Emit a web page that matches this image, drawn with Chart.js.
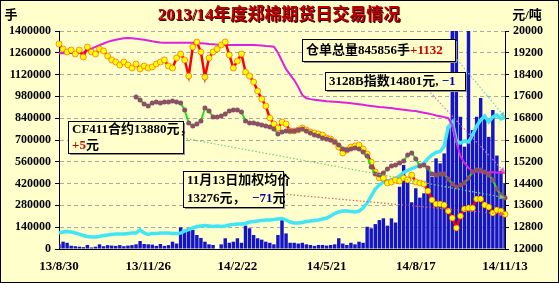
<!DOCTYPE html>
<html>
<head>
<meta charset="utf-8">
<script src="https://cdn.jsdelivr.net/npm/chart.js@4.4.0/dist/chart.umd.min.js"></script>
<style>
body { margin: 0; background: #fff; }
canvas { display: block; }
</style>
</head>
<body>
<canvas id="cottonChart" width="559" height="283"></canvas>
<script>
// 日期：2013/8/30 起每4天一个点，到 2014/11/13
var categories = [];
for (var i = 0; i <= 110; i++) {
  var d = new Date(2013, 7, 30 + i * 4);
  categories.push((d.getFullYear() % 100) + '/' + (d.getMonth() + 1) + '/' + d.getDate());
}
var tickLabels = ['13/8/30', '13/11/26', '14/2/22', '14/5/21', '14/8/17', '14/11/13'];

// 成交量（手，左轴）
var volume = [
  30000, 47000, 40000, 21000, 18000, 15000, 12000, 26000, 10000, 15000,
  30000, 18000, 25000, 22000, 20000, 25000, 18000, 22000, 25000, 30000,
  51000, 32000, 30000, 28000, 20000, 32000, 20000, 25000, 47000, 35000,
  139000, 111000, 133000, 122000, 90000, 71000, 47000, 30000, 26000, 0,
  30000, 69000, 40000, 47000, 69000, 40000, 150000, 133000, 90000, 69000,
  60000, 47000, 40000, 30000, 90000, 186000, 100000, 40000, 40000, 35000,
  40000, 30000, 26000, 20000, 26000, 26000, 22000, 26000, 30000, 69000,
  35000, 26000, 40000, 30000, 47000, 40000, 143000, 133000, 160000, 186000,
  197000, 150000, 197000, 170000, 400000, 540000, 454000, 300000, 390000, 330000,
  358000, 518000, 464000, 582000, 550000, 614000, 785000, 1600000, 1600000, 850000,
  657000, 1600000, 764000, 850000, 970000, 850000, 720000, 893000, 600000, 500000,
  422000
];

// 仓单总量（手，左轴）
var warehouse = [
  103000, 109000, 112000, 109000, 103000, 96000, 87000, 80000, 77000, 77000,
  80000, 87000, 90000, 93000, 96000, 96000, 96000, 100000, 103000, 103000,
  122000, 103000, 93000, 100000, 100000, 103000, 103000, 103000, 100000, 100000,
  103000, 116000, 125000, 135000, 144000, 148000, 151000, 148000, 144000, 148000,
  144000, 148000, 154000, 157000, 161000, 161000, 164000, 173000, 177000, 180000,
  183000, 186000, 186000, 189000, 193000, 196000, 186000, 173000, 167000, 167000,
  170000, 177000, 180000, 183000, 186000, 193000, 199000, 212000, 228000, 238000,
  244000, 244000, 241000, 238000, 244000, 263000, 295000, 340000, 385000, 411000,
  430000, 437000, 443000, 453000, 469000, 491000, 504000, 517000, 527000, 536000,
  552000, 581000, 604000, 620000, 626000, 661000, 783000, 816000, 694000, 681000,
  694000, 687000, 732000, 790000, 828000, 854000, 816000, 848000, 861000, 835000,
  845856
];

// 3128B指数（元/吨，右轴）
var index3128 = [
  19180, 19180, 19190, 19190, 19200, 19200, 19210, 19280, 19350, 19420,
  19480, 19540, 19600, 19640, 19680, 19710, 19730, 19740, 19730, 19720,
  19700, 19680, 19650, 19620, 19600, 19580, 19570, 19570, 19570, 19570,
  19570, 19570, 19570, 19570, 19560, 19550, 19540, 19520, 19510, 19500,
  19490, 19490, 19490, 19490, 19490, 19490, 19490, 19490, 19490, 19480,
  19470, 19450, 19440, 19420, 19200, 18900, 18600, 18400, 18200, 17950,
  17650, 17530, 17500, 17480, 17460, 17440, 17420, 17410, 17400, 17390,
  17380, 17370, 17350, 17330, 17310, 17290, 17270, 17250, 17230, 17210,
  17200, 17180, 17170, 17150, 17130, 17110, 17090, 17070, 17060, 17030,
  17000, 16970, 16940, 16900, 16870, 16840, 16800, 16550, 15930, 15410,
  15160, 14970, 14870, 14830, 14820, 14820, 14820, 14820, 14810, 14800,
  14801
];

// 加权均价（元/吨，右轴）
var weighted = [
  19524, 19340, 19230, 19303, 19157, 19303, 19046, 19413, 19230, 19157,
  19340, 19267, 19083, 18936, 18863, 18753, 18863, 18753, 18643, 18790,
  18606, 18716, 18643, 18679, 18790, 18863, 18936, 18716, 18643, 19010,
  19157, 18936, 18349, 19413, 19597, 19230, 18312, 19010, 19230, 19340,
  19487, 19597, 19120, 18643, 18900, 19157, 18496, 18349, 18129, 17799,
  17505, 17248, 16808, 16588, 16441, 16661, 16588, 16331, 16331, 16367,
  16441, 16367, 16294, 16257, 16221, 16184, 16074, 16037, 15927, 15743,
  15523, 15633, 15743, 15780, 15817, 15670, 15487, 15193, 14826, 14606,
  14606, 14422, 14459, 14532, 14496, 14606, 14532, 14716, 14459, 14422,
  14386, 14129, 13798, 13652, 13652, 13615, 13395, 13138, 12771, 13211,
  13468, 13505, 13505, 13835, 13835, 13615, 13541, 13321, 13431, 13395,
  13276
];

// CF411合约（元/吨，右轴）
var cf411 = [
  null, null, null, null, null, null, null, null, null, null,
  null, null, null, null, null, null, null, null, null, 17578,
  17468, 17322, 17248, 17358, 17395, 17358, 17395, 17395, 17432, 17395,
  17358, 17101, 16624, 16514, 16588, 16698, 17175, 17065, 16844, 16844,
  16881, 16955, 17065, 17101, 17101, 17028, 16698, 16624, 16624, 16588,
  16551, 16514, 16477, 16404, 16221, 16294, 16331, 16331, 16331, 16367,
  16404, 16331, 16257, 16184, 16147, 16074, 16037, 16000, 15927, 15817,
  15670, 15633, 15670, 15707, 15670, 15560, 15413, 15009, 14753, 14716,
  14789, 14936, 15046, 15083, 15156, 15230, 15450, 15523, 15303, 15046,
  15083, 14973, 14753, 14716, 14753, 14753, 14569, 14386, 14275, 14349,
  14422, 14606, 14826, 14899, 14899, 14826, 14716, 14532, 14202, 13982,
  13880
];

var FONT = '"Liberation Serif", "Noto Sans CJK SC", serif';

// 标注框：文字 + 指向各序列末点的虚线
var notes = [
  { box: [302, 39, 153, 22], rows: [[['仓单总量845856手', '#000'], ['+1132', '#CC0000']]], from: [455, 57], ds: 1, color: '#60D0D8' },
  { box: [325, 72, 140, 18], rows: [[['3128B指数14801元, ', '#000'], ['\u22121', '#000099']]], from: [428, 90], ds: 2, color: '#E070C8' },
  { box: [68, 121, 115, 32], rows: [[['CF411合约13880元，', '#000']], [['+5', '#CC0000'], ['元', '#000']]], from: [183, 138], ds: 4, color: '#70D070' },
  { box: [183, 171, 100, 36], rows: [[['11月13日加权均价', '#000']], [['13276元，  ', '#000'], ['\u221271', '#000099'], ['元', '#000']]], from: [283, 194], ds: 3, color: '#E06060' }
];

var paperPlugin = {
  id: 'paper',
  beforeDraw: function(chart) {
    var c = chart.ctx;
    c.save();
    c.fillStyle = '#FFFFCC';
    c.fillRect(0, 0, chart.width, chart.height);
    c.restore();
  },
  afterDatasetsDraw: function(chart) {
    var c = chart.ctx;
    c.save();
    // 虚线引线
    notes.forEach(function(n) {
      var pts = chart.getDatasetMeta(n.ds).data;
      var end = pts[pts.length - 1];
      var x0 = n.from[0], y0 = n.from[1], x1 = end.x, y1 = end.y;
      c.strokeStyle = n.color;
      c.fillStyle = n.color;
      c.lineWidth = 1.2;
      c.setLineDash([1.5, 2]);
      c.beginPath();
      c.moveTo(x0, y0);
      c.lineTo(x1, y1);
      c.stroke();
      c.setLineDash([]);
      var a = Math.atan2(y1 - y0, x1 - x0);
      c.beginPath();
      c.moveTo(x1, y1);
      c.lineTo(x1 - 6 * Math.cos(a - 0.45), y1 - 6 * Math.sin(a - 0.45));
      c.lineTo(x1 - 6 * Math.cos(a + 0.45), y1 - 6 * Math.sin(a + 0.45));
      c.closePath();
      c.fill();
    });
    // 文字框
    c.font = 'bold 13px ' + FONT;
    c.textBaseline = 'middle';
    c.textAlign = 'left';
    notes.forEach(function(n) {
      var b = n.box;
      c.fillStyle = '#909090';
      c.fillRect(b[0] + 2, b[1] + 2, b[2], b[3]);
      c.fillStyle = '#FFFFCC';
      c.fillRect(b[0], b[1], b[2], b[3]);
      c.strokeStyle = '#000';
      c.lineWidth = 1;
      c.strokeRect(b[0] + 0.5, b[1] + 0.5, b[2], b[3]);
      var rh = b[3] / n.rows.length;
      n.rows.forEach(function(row, r) {
        var x = b[0] + 4;
        var y = b[1] + rh * (r + 0.5) + 1;
        row.forEach(function(part) {
          c.fillStyle = part[1];
          c.fillText(part[0], x, y);
          x += c.measureText(part[0]).width;
        });
      });
    });
    c.restore();
  },
  afterDraw: function(chart) {
    var c = chart.ctx;
    c.save();
    c.textBaseline = 'middle';
    c.textAlign = 'center';
    c.font = 'bold 17px ' + FONT;
    c.shadowColor = '#300000';
    c.shadowOffsetX = 1;
    c.shadowOffsetY = 1;
    c.fillStyle = '#C00000';
    c.fillText('2013/14年度郑棉期货日交易情况', 279, 16);
    c.shadowColor = 'transparent';
    c.font = 'bold 13px ' + FONT;
    c.fillStyle = '#000';
    c.fillText('手', 11, 16);
    c.fillText('元/吨', 527, 16);
    c.strokeStyle = '#000';
    c.lineWidth = 1;
    c.strokeRect(0.5, 0.5, chart.width - 1, chart.height - 1);
    c.restore();
  }
};

var tickFont = { family: FONT, size: 12, weight: 'bold' };

new Chart(document.getElementById('cottonChart'), {
  data: {
    labels: categories,
    datasets: [
      { type: 'bar', data: volume, yAxisID: 'yL', backgroundColor: '#1414C8', barPercentage: 0.85, categoryPercentage: 1, clip: 0, order: 5 },
      { type: 'line', data: warehouse, yAxisID: 'yL', borderColor: '#40E6F6', borderWidth: 3.5, pointRadius: 0, order: 4 },
      { type: 'line', data: index3128, yAxisID: 'yR', borderColor: '#DD22DD', borderWidth: 2, pointRadius: 0, order: 3 },
      { type: 'line', data: weighted, yAxisID: 'yR', borderColor: '#FF0000', borderWidth: 2.5, pointRadius: 3,
        pointBackgroundColor: '#FFFF00', pointBorderColor: '#FF2000', pointBorderWidth: 0.5, order: 2 },
      { type: 'line', data: cf411, yAxisID: 'yR', borderColor: '#22E022', borderWidth: 2, pointRadius: 2.5,
        pointBackgroundColor: '#8C5064', pointBorderWidth: 0, order: 1 }
    ]
  },
  options: {
    responsive: false,
    animation: false,
    layout: { padding: { top: 31, left: 0, right: 0, bottom: 0 } },
    plugins: { legend: { display: false }, tooltip: { enabled: false } },
    scales: {
      x: {
        offset: false,
        grid: { display: false, drawTicks: false },
        border: { color: '#000' },
        ticks: {
          autoSkip: false, maxRotation: 0, minRotation: 0, padding: 10, color: '#000',
          font: { family: FONT, size: 13, weight: 'bold' },
          callback: function(v) {
            var lab = this.getLabelForValue(v);
            return tickLabels.indexOf(lab) >= 0 ? lab : null;
          }
        },
        afterFit: function(s) { s.height = 34; }
      },
      yL: {
        position: 'left', min: 0, max: 1400000,
        ticks: { stepSize: 140000, color: '#000', font: tickFont, padding: 4, callback: function(v) { return String(v); } },
        grid: { color: '#A8A8A8', tickColor: '#000', tickLength: 4 },
        border: { color: '#000', dash: [4, 3] },
        afterFit: function(s) { s.width = 59; }
      },
      yR: {
        position: 'right', min: 12000, max: 20000,
        ticks: { stepSize: 800, color: '#000', font: tickFont, padding: 4, callback: function(v) { return String(v); } },
        grid: { drawOnChartArea: false, tickColor: '#000', tickLength: 4 },
        border: { color: '#000' },
        afterFit: function(s) { s.width = 54; }
      }
    }
  },
  plugins: [paperPlugin]
});
</script>
</body>
</html>
